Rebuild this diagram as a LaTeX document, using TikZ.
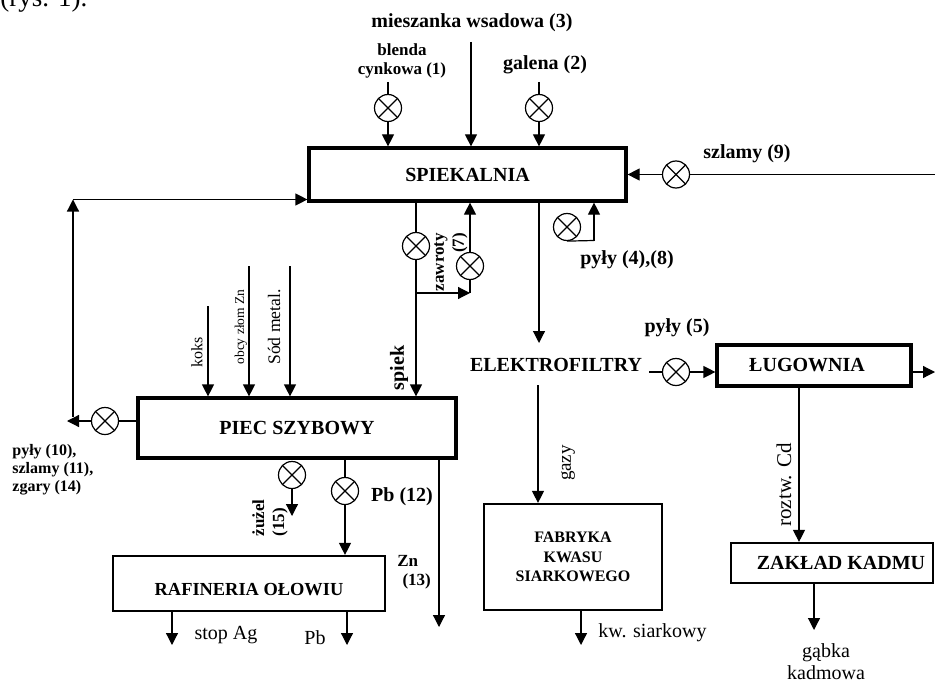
\documentclass[tikz,border=0pt]{standalone}
\usepackage{fontspec}
\setmainfont{Liberation Serif}
\usetikzlibrary{arrows.meta}
\tikzset{
  unit/.style   = {draw, line width=1.6pt, font=\bfseries, inner sep=0pt},
  plant/.style  = {draw, line width=1.1pt, font=\bfseries, inner sep=0pt, align=center},
  valve/.style  = {circle, draw, line width=0.6pt, minimum size=13.5pt, inner sep=0pt,
                   path picture={\draw[line width=0.6pt]
                     (path picture bounding box.north west) -- (path picture bounding box.south east)
                     (path picture bounding box.south west) -- (path picture bounding box.north east);}},
  wire/.style   = {line width=0.6pt},
  flow/.style   = {wire, -{Triangle[length=6pt,width=6pt]}},
  tag/.style    = {font=\bfseries, inner sep=1pt},
  smalltag/.style = {font=\bfseries\fontsize{8.5}{9.5}\selectfont, inner sep=1pt},
  note/.style   = {font=\fontsize{10}{11}\selectfont, inner sep=1pt},
}
\begin{document}
\begin{tikzpicture}[x=0.5pt,y=-0.5pt]
  \useasboundingbox (0,0) rectangle (935,684);
  \node[font=\fontsize{13.5}{16}\selectfont, anchor=base west, inner sep=0pt] (rys) at (0,7) {(rys. 1).};

  % main units
  \node[unit, minimum width=158.5pt, minimum height=26.5pt] (spk) at (467.5,174.5) {SPIEKALNIA};
  \node[unit, minimum width=159pt, minimum height=30pt] (piec) at (297,428) {PIEC SZYBOWY};
  \node[unit, minimum width=97pt, minimum height=20.5pt] (lug) at (814,365.5) {ŁUGOWNIA\hspace*{7pt}};
  \node[plant, minimum width=101pt, minimum height=20pt] (kad) at (832,563) {\hspace*{9pt}ZAKŁAD KADMU};
  \node[plant, minimum width=89pt, minimum height=53pt,
        font=\bfseries\fontsize{8}{9.75}\selectfont] (fab) at (573,557) {FABRYKA\\KWASU\\SIARKOWEGO};
  \node[plant, minimum width=136pt, minimum height=27.5pt,
        font=\bfseries\fontsize{9.2}{11}\selectfont] (raf) at (249,583.5) {\raisebox{-3pt}[\height][0pt]{RAFINERIA OŁOWIU}};
  \node[tag] (elf) at (556,365) {ELEKTROFILTRY};

  % feeds to SPIEKALNIA
  \coordinate (in1) at (388,82);
  \coordinate (in3) at (471,42);
  \coordinate (in2) at (539,82);
  \node[valve] (v1) at (388,108) {};
  \node[valve] (v2) at (539,108) {};
  \draw[wire] (in1) -- (v1);
  \draw[flow] (v1) -- (v1 |- spk.north);
  \draw[flow] (in3) -- (in3 |- spk.north);
  \draw[wire] (in2) -- (v2);
  \draw[flow] (v2) -- (v2 |- spk.north);
  \node[tag] (t3) at (472,23) {mieszanka wsadowa (3)};
  \node[smalltag, align=center] (t1) at (402,61) {blenda\\cynkowa (1)};
  \node[tag] (t2) at (545,65) {galena (2)};

  % szlamy (9)
  \coordinate (s9) at (935,174.5);
  \node[valve] (v9) at (676,174.5) {};
  \draw[wire] (s9) -- (v9);
  \draw[flow] (v9) -- (v9 -| spk.east);
  \node[tag] (t9) at (747,154) {szlamy (9)};

  % spiek and zawroty
  \node[valve] (v6) at (416,246) {};
  \draw[wire] (v6 |- spk.south) -- (v6);
  \draw[flow] (v6) -- (v6 |- piec.north);
  \coordinate (b7) at (416,293);
  \coordinate (c7) at (470,293);
  \node[valve] (v7) at (470,266) {};
  \draw[flow] (b7) -- (c7);
  \draw[wire] (c7) -- (v7);
  \draw[flow] (v7) -- (v7 |- spk.south);
  \node[tag, rotate=90] (tsp) at (399,368) {spiek};
  \node[smalltag, rotate=90, align=right, font=\bfseries\fontsize{8.5}{10}\selectfont] (t7) at (451,262) {zawroty\\(7)};

  % pyly (4),(8)
  \node[valve] (v4) at (567,227) {};
  \coordinate (c4) at (594,240.5);
  \draw[wire] (v4.south) -- (c4);
  \draw[flow] (c4) -- (c4 |- spk.south);
  \node[tag] (t4) at (627,260) {pyły (4),(8)};

  % to ELEKTROFILTRY and LUGOWNIA
  \coordinate (e1) at (539,343);
  \draw[flow] (e1 |- spk.south) -- (e1);
  \coordinate (e2) at (649,372);
  \node[valve] (v5) at (676,372) {};
  \draw[wire] (e2) -- (v5);
  \draw[flow] (v5) -- (v5 -| lug.west);
  \node[tag] (t5) at (677,328) {pyły (5)};
  \coordinate (out1) at (935,372);
  \draw[flow] (out1 -| lug.east) -- (out1);

  % cadmium
  \coordinate (cd) at (799,480);
  \draw[flow] (cd |- lug.south) -- (cd |- kad.north);
  \node[note, rotate=90, font=\fontsize{10.5}{12}\selectfont] (tcd) at (784,485) {roztw. Cd};
  \coordinate (g1) at (814,630);
  \draw[flow] (g1 |- kad.south) -- (g1);
  \node[note, align=center] (tg) at (826,662) {gąbka\\kadmowa};

  % gases
  \coordinate (gz) at (538,385);
  \draw[flow] (gz) -- (gz |- fab.north);
  \node[note, rotate=90, font=\fontsize{9.5}{11}\selectfont] (tgz) at (568,463) {gazy};
  \coordinate (k1) at (581,645);
  \draw[flow] (k1 |- fab.south) -- (k1);
  \node[note, anchor=west] (tk) at (596,633) {kw. siarkowy};

  % recycle from PIEC
  \node[valve] (v10) at (105,421) {};
  \coordinate (c10) at (67,421);
  \coordinate (r10) at (73,417);
  \coordinate (r10t) at (73,199.5);
  \draw[wire] (v10 -| piec.west) -- (v10);
  \draw[flow] (v10) -- (c10);
  \draw[flow] (r10) -- (r10t);
  \draw[flow] (r10t) -- (r10t -| spk.west);
  \node[smalltag, font=\bfseries\fontsize{8}{9}\selectfont, align=left, anchor=north west] (t10) at (10,442)
    {pyły (10),\\szlamy (11),\\zgary (14)};

  % PIEC feeds
  \coordinate (kin) at (208,306);
  \coordinate (zin) at (249,266);
  \coordinate (sin) at (290,266);
  \draw[flow] (kin) -- (kin |- piec.north);
  \draw[flow] (zin) -- (zin |- piec.north);
  \draw[flow] (sin) -- (sin |- piec.north);
  \node[note, rotate=90, font=\fontsize{8}{9}\selectfont] (tkk) at (197,352) {koks};
  \node[note, rotate=90, font=\fontsize{6.75}{8}\selectfont] (tzz) at (241,327) {obcy złom Zn};
  \node[note, rotate=90, font=\fontsize{8.8}{10}\selectfont] (tss) at (274,327) {Sód metal.};

  % PIEC outputs
  \node[valve] (v12) at (345,491) {};
  \draw[wire] (v12 |- piec.south) -- (v12);
  \draw[flow] (v12) -- (v12 |- raf.north);
  \node[tag] (t12) at (402,497) {Pb (12)};
  \node[valve] (v15) at (292,475) {};
  \coordinate (z15) at (292,516);
  \draw[flow] (v15) -- (z15);
  \node[smalltag, rotate=90, align=left, font=\bfseries\fontsize{8.5}{10}\selectfont] (t15) at (270,518) {żużel\\(15)};
  \coordinate (zn) at (439,627);
  \draw[flow] (zn |- piec.south) -- (zn);
  \node[smalltag, align=left, anchor=west] (t13) at (395,572) {Zn\\\hspace*{0.3em}(13)};

  % RAFINERIA outputs
  \coordinate (ag) at (172,645);
  \coordinate (pb) at (347,645);
  \draw[flow] (ag |- raf.south) -- (ag);
  \draw[flow] (pb |- raf.south) -- (pb);
  \node[note] (tag1) at (226,635) {stop Ag};
  \node[note] (tpb) at (315,638) {Pb};
\end{tikzpicture}
\end{document}
